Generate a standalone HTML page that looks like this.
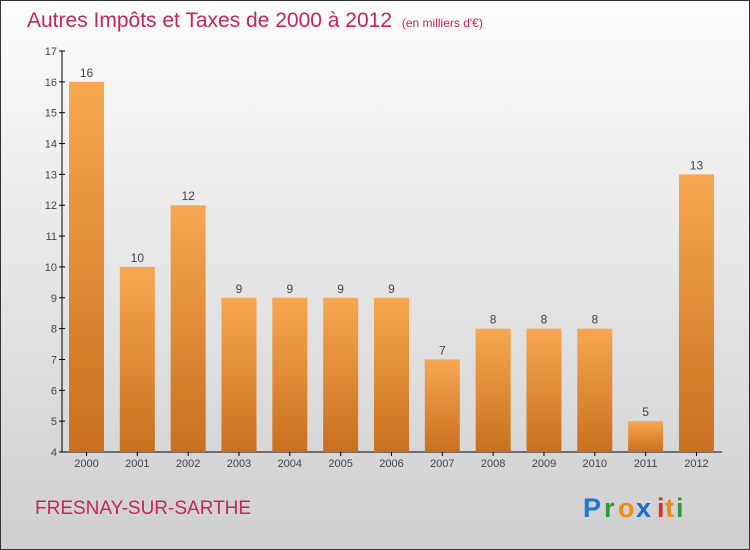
<!DOCTYPE html>
<html><head><meta charset="utf-8"><style>
body{margin:0}
#c{width:748px;height:548px;border:1px solid #333;background:linear-gradient(#fcfcfc,#cfcfcf);position:relative;font-family:"Liberation Sans",sans-serif}
</style></head><body>
<div id="c">
<svg id="s" width="748" height="548" style="position:absolute;left:0;top:0">
<defs><linearGradient id="g" x1="0" y1="0" x2="0" y2="1"><stop offset="0" stop-color="#f7a752"/><stop offset="1" stop-color="#c8701f"/></linearGradient></defs>
<text x="26" y="26" font-size="21" fill="#c4255a">Autres Impôts et Taxes de 2000 à 2012 <tspan font-size="12" dx="4">(en milliers d'€)</tspan></text>
<text x="34" y="513" font-size="19" fill="#c4255a">FRESNAY-SUR-SARTHE</text>
<g font-size="27" font-weight="bold">
<text x="582" y="516" fill="#1a7ad0">P</text><text x="603" y="516" fill="#2a9a3a">r</text><text x="617" y="516" fill="#f08a10">o</text><text x="635" y="516" fill="#1a6ad0">x</text><text x="656" y="516" fill="#e03020">i</text><text x="664" y="516" fill="#f08a10">t</text><text x="675" y="516" fill="#2a9a3a">i</text>
</g>
</svg>
</div>
<script>
const categories=["2000","2001","2002","2003","2004","2005","2006","2007","2008","2009","2010","2011","2012"];
const values=[16,10,12,9,9,9,9,7,8,8,8,5,13];
const yTicks=[4,5,6,7,8,9,10,11,12,13,14,15,16,17];
const s=document.getElementById('s');const NS="http://www.w3.org/2000/svg";
const y=v=>451-(v-4)*(401/13);const xc=i=>85.5+i*50.83;
function mk(t,a){const e=document.createElementNS(NS,t);for(const k in a)e.setAttribute(k,a[k]);s.appendChild(e);return e;}
const ax=mk('line',{x1:61,y1:50,x2:61,y2:451,stroke:'#000'});


const bx=mk('line',{x1:61,y1:451,x2:721,y2:451,stroke:'#000'});


yTicks.forEach(v=>{const t=mk('line',{x1:58,x2:64,y1:y(v),y2:y(v),stroke:'#000'});


const l=mk('text',{x:56,y:y(v)+4,'font-size':11,'text-anchor':'end',fill:'#444'});l.textContent=v;

});
categories.forEach((c,i)=>{const v=values[i];
const r=mk('rect',{x:xc(i)-17.5,y:y(v),width:35,height:451-y(v),fill:'url(#g)'});


const t=mk('text',{x:xc(i),y:y(v)-5,'font-size':12,'text-anchor':'middle',fill:'#444'});t.textContent=v;


const tk=mk('line',{x1:xc(i),x2:xc(i),y1:451,y2:455,stroke:'#000'});


const xl=mk('text',{x:xc(i),y:466,'font-size':11,'text-anchor':'middle',fill:'#444'});xl.textContent=c;

});
</script>
</body></html>
